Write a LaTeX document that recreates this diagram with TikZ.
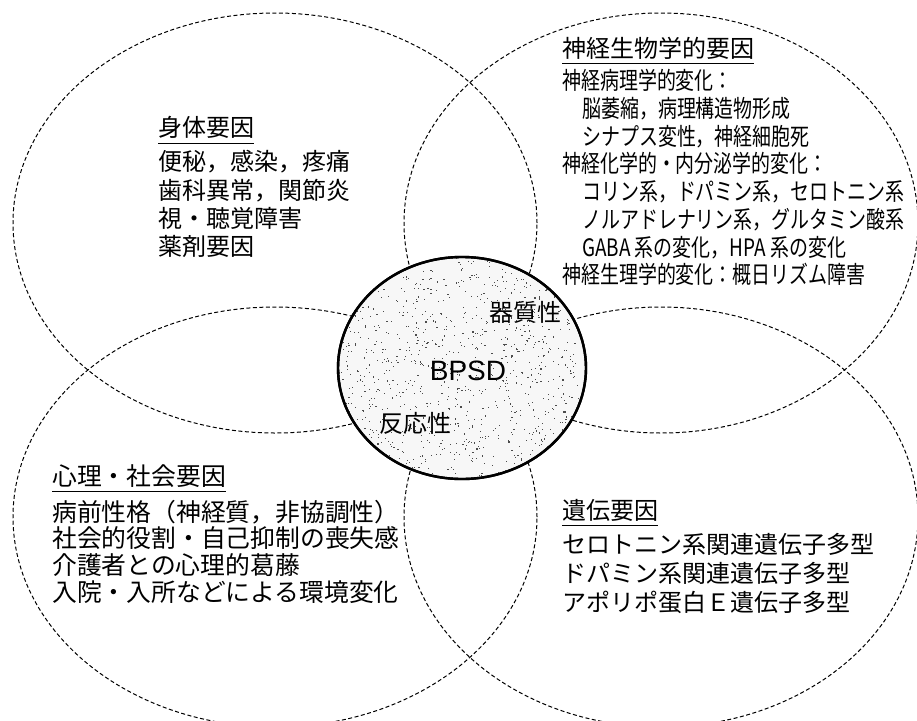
\documentclass[tikz,border=0pt]{standalone}
\usepackage{fontspec}
\newfontfamily\jp{Noto Sans CJK JP}
\newfontfamily\jpc[FakeStretch=0.79]{Noto Sans CJK JP}
\newfontfamily\lib{Liberation Sans}
\usetikzlibrary{shapes.geometric}
\begin{document}
\begin{tikzpicture}[x=1pt,y=-1pt,
  zone/.style={ellipse, draw, dash pattern=on 4pt off 2.5pt, line width=1pt, inner sep=0pt},
  core/.style={ellipse, draw, line width=2.4pt, fill=gray!6, inner sep=0pt},
  speck/.style={fill=black!70},
  txt/.style={anchor=base west, inner sep=0pt, font=\jp\fontsize{24}{28}\selectfont},
  btxt/.style={anchor=base west, inner sep=0pt, font=\jp\fontsize{24.8}{28}\selectfont},
  ctxt/.style={anchor=base west, inner sep=0pt, font=\jpc\fontsize{24}{28}\selectfont},
  ctr/.style={anchor=base, inner sep=0pt, font=\jp\fontsize{24}{28}\selectfont},
  uline/.style={line width=0.8pt},
]
\useasboundingbox (0,0) rectangle (917,720);
% four dashed zones
\node[zone, minimum width=524pt, minimum height=420pt] (tl) at (275,223) {};
\node[zone, minimum width=514pt, minimum height=420pt] (tr) at (661,223) {};
\node[zone, minimum width=524pt, minimum height=420pt] (bl) at (275,517) {};
\node[zone, minimum width=514pt, minimum height=420pt] (br) at (661,517) {};
% central BPSD ellipse
\node[core, minimum width=248pt, minimum height=222pt] (bpsd) at (462,368) {};
\begin{scope}
  \clip (462,368) ellipse [x radius=123pt, y radius=110pt];
  \pgfmathsetseed{3}
  \foreach \i in {1,...,1100}{
    \pgfmathsetmacro{\px}{462+124*rand}
    \pgfmathsetmacro{\py}{368+111*rand}
    \fill[speck] (\px,\py) rectangle ++(1.1,1.1);
  }
\end{scope}
\node[ellipse, draw, line width=2.4pt, inner sep=0pt, minimum width=248pt, minimum height=222pt] (bpsdrim) at (bpsd.center) {};
\node[anchor=base, inner sep=0pt, font=\lib\fontsize{28}{32}\selectfont] (bpsdlab) at (468,380) {BPSD};
\node[ctr] (kishitsu) at (525,321) {器質性};
\node[ctr] (hanno) at (415,432) {反応性};
% top-left: physical factors
\node[txt] (tlt) at (158,136.5) {身体要因};
\draw[uline] ([yshift=-6.5pt]tlt.base west) -- ([yshift=-6.5pt]tlt.base east);
\node[txt] (tl1) at (158,170.5) {便秘，感染，疼痛};
\node[txt] (tl2) at (158,199) {歯科異常，関節炎};
\node[txt] (tl3) at (158,227) {視・聴覚障害};
\node[txt] (tl4) at (158,255.5) {薬剤要因};
% top-right: neurobiological factors
\node[txt] (trt) at (562,57.5) {神経生物学的要因};
\draw[uline] ([yshift=-5.5pt]trt.base west) -- ([yshift=-5.5pt]trt.base east);
\node[ctxt] (tr1) at (562,89) {神経病理学的変化：};
\node[ctxt] (tr2) at (582,117) {脳萎縮，病理構造物形成};
\node[ctxt] (tr3) at (582,145) {シナプス変性，神経細胞死};
\node[ctxt] (tr4) at (562,172) {神経化学的・内分泌学的変化：};
\node[ctxt] (tr5) at (582,200) {コリン系，ドパミン系，セロトニン系};
\node[ctxt] (tr6) at (582,228) {ノルアドレナリン系，グルタミン酸系};
\node[ctxt] (tr7) at (582,256) {GABA 系の変化，HPA 系の変化};
\node[ctxt] (tr8) at (562,283) {神経生理学的変化：概日リズム障害};
% bottom-left: psycho-social factors
\node[btxt] (blt) at (52,485.5) {心理・社会要因};
\draw[uline] ([yshift=-6pt]blt.base west) -- ([yshift=-6pt]blt.base east);
\node[btxt] (bl1) at (52,521) {病前性格（神経質，非協調性）};
\node[btxt] (bl2) at (52,547.5) {社会的役割・自己抑制の喪失感};
\node[btxt] (bl3) at (52,574) {介護者との心理的葛藤};
\node[btxt] (bl4) at (52,601) {入院・入所などによる環境変化};
% bottom-right: genetic factors
\node[txt] (brt) at (562,519) {遺伝要因};
\draw[uline] ([yshift=-6pt]brt.base west) -- ([yshift=-6pt]brt.base east);
\node[txt] (br1) at (562,553.5) {セロトニン系関連遺伝子多型};
\node[txt] (br2) at (562,582) {ドパミン系関連遺伝子多型};
\node[txt] (br3) at (562,611) {アポリポ蛋白Ｅ遺伝子多型};
\end{tikzpicture}
\end{document}
